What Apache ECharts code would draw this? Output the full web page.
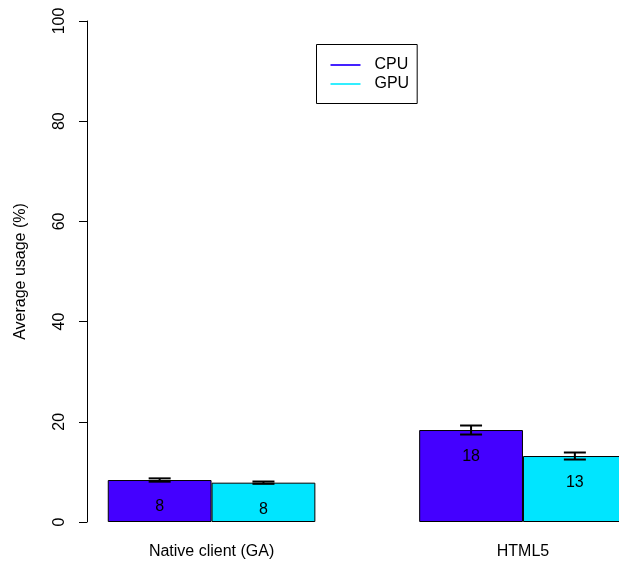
<!DOCTYPE html>
<html>
<head>
<meta charset="utf-8">
<script src="https://cdn.jsdelivr.net/npm/echarts@6/dist/echarts.min.js"></script>
<style>html,body{margin:0;padding:0;background:#fff;overflow:hidden}#c{width:619px;height:567px}</style>
</head>
<body>
<div id="c"></div>
<script>
var categories = ["Native client (GA)", "HTML5"];
var seriesNames = ["CPU", "GPU"];
var cpuValues = [8.38, 18.36];
var gpuValues = [7.85, 13.17];
var cpuErr = [0.33, 0.9];
var gpuErr = [0.23, 0.7];
var yTicks = [0, 20, 40, 60, 80, 100];

var cpuColor = "#4400FF";
var gpuColor = "#00E5FF";
var font = "Liberation Sans, Arial, Helvetica, sans-serif";

// R barplot(beside=TRUE) layout: bar width 1, space 1 between groups
function groupCenter(i) { return 2 + 3 * i; }
var groupCenters = categories.map(function (c, i) { return groupCenter(i); });
var cpuData = cpuValues.map(function (v, i) { return [groupCenter(i) - 0.5, v]; });
var gpuData = gpuValues.map(function (v, i) { return [groupCenter(i) + 0.5, v]; });

var errData = [];
for (var i = 0; i < categories.length; i++) {
  errData.push([groupCenter(i) - 0.5, cpuValues[i] - cpuErr[i], cpuValues[i] + cpuErr[i]]);
  errData.push([groupCenter(i) + 0.5, gpuValues[i] - gpuErr[i], gpuValues[i] + gpuErr[i]]);
}

var chart = echarts.init(document.getElementById("c"), null, {renderer: "canvas"});
var barLabel = {
  show: true, position: "insideTop", distance: 19,
  color: "#000", fontSize: 16, fontFamily: font,
  formatter: function (p) { return Math.round(p.value[1]); }
};
var xMin = 0.8, xMax = 0.8 + (619 - 87) / 103.8;
chart.setOption({
  animation: false,
  backgroundColor: "#fff",
  grid: {left: 87, right: 0, top: 21, bottom: 45, containLabel: false},
  legend: {
    orient: "vertical", left: 316.5, top: 44.5,
    borderColor: "#000", borderWidth: 1, borderRadius: 0,
    padding: [12.5, 8, 11.5, 14], itemGap: 3,
    itemWidth: 30, itemHeight: 2,
    icon: "path://M0,0 L30,0 L30,2 L0,2 Z",
    itemStyle: {borderWidth: 0},
    textStyle: {fontSize: 16, fontFamily: font, color: "#000", lineHeight: 16, padding: [0, 0, 0, 9]},
    data: [
      {name: seriesNames[0], itemStyle: {color: "#4422FF", borderWidth: 0}},
      {name: seriesNames[1], itemStyle: {color: "#33EEFF", borderWidth: 0}}
    ]
  },
  xAxis: {
    type: "value", min: xMin, max: xMax,
    axisLine: {show: false}, axisTick: {show: false}, splitLine: {show: false},
    axisLabel: {
      color: "#000", fontSize: 16, fontFamily: font, margin: 22,
      customValues: groupCenters,
      formatter: function (v) {
        var idx = groupCenters.indexOf(v);
        return idx >= 0 ? categories[idx] : "";
      }
    }
  },
  yAxis: {
    type: "value", min: yTicks[0], max: yTicks[yTicks.length - 1], interval: 20,
    name: "Average usage (%)", nameLocation: "middle", nameGap: 58, nameRotate: 90,
    nameTextStyle: {color: "#000", fontSize: 16, fontFamily: font},
    axisLine: {show: true, lineStyle: {color: "#000", width: 1}},
    axisTick: {show: true, length: 8, lineStyle: {color: "#000"}},
    axisLabel: {color: "#000", fontSize: 16, fontFamily: font, rotate: 90, margin: 19},
    splitLine: {show: false}
  },
  series: [
    {name: seriesNames[0], type: "bar", data: cpuData, barWidth: 103.8, barGap: "-100%",
     itemStyle: {color: cpuColor, borderColor: "#000", borderWidth: 1}, label: barLabel},
    {name: seriesNames[1], type: "bar", data: gpuData, barWidth: 103.8, barGap: "-100%",
     itemStyle: {color: gpuColor, borderColor: "#000", borderWidth: 1}, label: barLabel},
    {type: "custom", data: errData, z: 10, silent: true,
     renderItem: function (params, api) {
       var lo = api.coord([api.value(0), api.value(1)]);
       var hi = api.coord([api.value(0), api.value(2)]);
       var x = lo[0];
       var hw = 11;
       var st = {stroke: "#000", lineWidth: 2};
       return {type: "group", children: [
         {type: "line", shape: {x1: x, y1: lo[1], x2: x, y2: hi[1]}, style: st},
         {type: "line", shape: {x1: x - hw, y1: lo[1], x2: x + hw, y2: lo[1]}, style: st},
         {type: "line", shape: {x1: x - hw, y1: hi[1], x2: x + hw, y2: hi[1]}, style: st}
       ]};
     }}
  ]
});
</script>
</body>
</html>
